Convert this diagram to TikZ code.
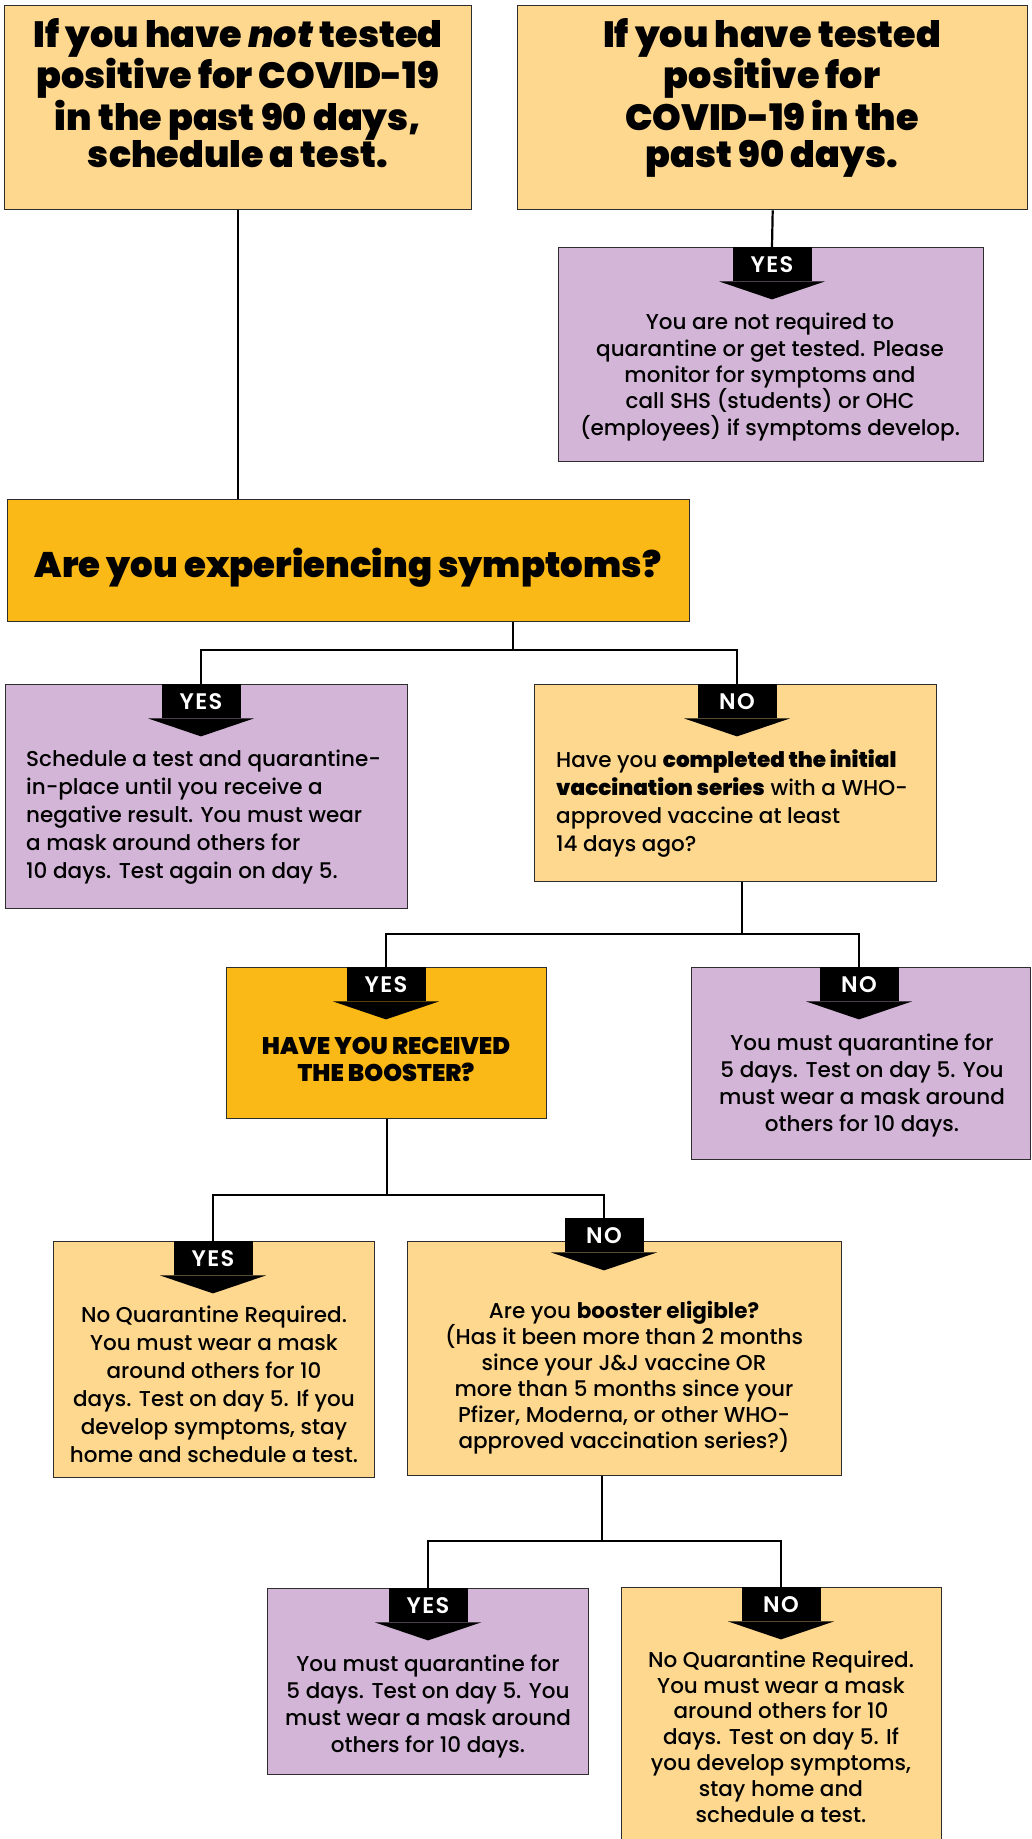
\documentclass[tikz,border=0pt]{standalone}
\usepackage{fontspec}
\setmainfont{Poppins}[UprightFont=* Medium, BoldFont=* Bold]
\newfontfamily\heavyfont{Poppins}[UprightFont=* Black, ItalicFont=* Black Italic]
\newfontfamily\semifont{Poppins}[UprightFont=* SemiBold, LetterSpace=6]
\usetikzlibrary{calc}
\definecolor{lightor}{RGB}{254,216,143}
\definecolor{gold}{RGB}{251,185,23}
\definecolor{lilac}{RGB}{211,181,215}
\definecolor{bordc}{RGB}{45,45,45}
\newcommand\tabarrow[4]{%
  \node[tabbox] (#1) at (#2,#3) {#4};
  \fill ($(#1.south)+(-53,0)$) -- ($(#1.south)+(53,0)$) -- ($(#1.south)+(0,18)$) -- cycle;}
\begin{document}
\begin{tikzpicture}[x=1pt,y=-1pt,
  box/.style={draw=bordc, line width=1.4pt, inner sep=0pt, anchor=north west},
  conn/.style={line width=2.2pt, draw=black},
  tabbox/.style={fill=black, text=white, inner sep=0pt, minimum width=79pt,
    minimum height=34pt, anchor=north, font=\semifont\fontsize{22.5}{24}\selectfont,
    text height=17pt, text depth=0pt},
  htext/.style={inner sep=0pt, align=center, anchor=base},
  btext/.style={inner sep=0pt, align=center, anchor=base},
  ltext/.style={inner sep=0pt, align=left, anchor=base west}]
\fill[white] (0,0) rectangle (1031,1839);
\useasboundingbox (0,0) rectangle (1031,1839);

% boxes
\node[box, fill=lightor, minimum width=467pt, minimum height=204pt] (b1) at (4,5) {};
\node[box, fill=lightor, minimum width=510pt, minimum height=204pt] (b2) at (517,5) {};
\node[box, fill=lilac, minimum width=425pt, minimum height=214pt] (p1) at (558,247) {};
\node[box, fill=gold, minimum width=682pt, minimum height=122pt] (sym) at (7,499) {};
\node[box, fill=lilac, minimum width=402pt, minimum height=224pt] (sy) at (5,684) {};
\node[box, fill=lightor, minimum width=402pt, minimum height=197pt] (sn) at (534,684) {};
\node[box, fill=gold, minimum width=320pt, minimum height=151pt] (vy) at (226,967) {};
\node[box, fill=lilac, minimum width=339pt, minimum height=192pt] (vn) at (691,967) {};
\node[box, fill=lightor, minimum width=321pt, minimum height=236pt] (by) at (53,1241) {};
\node[box, fill=lightor, minimum width=434pt, minimum height=234pt] (bn) at (407,1241) {};
\node[box, fill=lilac, minimum width=321pt, minimum height=186pt] (ey) at (267,1588) {};
\node[box, fill=lightor, minimum width=320pt, minimum height=262pt] (en) at (621,1587) {};

% tabs
\tabarrow{tT}{772}{247}{YES}
\tabarrow{tSY}{201}{684}{YES}
\tabarrow{tSN}{737}{684}{NO}
\tabarrow{tVY}{386}{967}{YES}
\tabarrow{tVN}{859}{967}{NO}
\tabarrow{tBY}{213}{1241}{YES}
\tabarrow{tBN}{604}{1218}{NO}
\tabarrow{tEY}{428}{1588}{YES}
\tabarrow{tEN}{781}{1587}{NO}

% junctions
\coordinate (jS) at (513,650);
\coordinate (jV) at (742,934);
\coordinate (jB) at (387,1195);
\coordinate (jE) at (602,1541);

% connectors
\draw[conn] (b1.south) -- (b1.south |- sym.north);
\draw[conn] (b2.south) -- (tT.north);
\draw[conn] (jS |- sym.south) -- (jS) -| (tSY.north);
\draw[conn] (jS) -| (tSN.north);
\draw[conn] (jV |- sn.south) -- (jV) -| (tVY.north);
\draw[conn] (jV) -| (tVN.north);
\draw[conn] (jB |- vy.south) -- (jB) -| (tBY.north);
\draw[conn] (jB) -| (tBN.north);
\draw[conn] (jE |- bn.south) -- (jE) -| (tEY.north);
\draw[conn] (jE) -| (tEN.north);

% texts (anchor = baseline of last line)
\node[htext, font=\heavyfont\fontsize{36.5}{37}\selectfont] (b1t) at (238,167)
  {If you have \textit{not} tested\\positive for COVID-19\\in the past 90 days,\\schedule a test.};
\node[htext, font=\heavyfont\fontsize{36.5}{37}\selectfont] (b2t) at (772,167)
  {If you have tested\\positive for\\COVID-19 in the\\past 90 days.};
\node[btext, font=\fontsize{21.5}{26.3}\selectfont] (p1t) at (770,435)
  {You are not required to\\quarantine or get tested. Please\\monitor for symptoms and\\call SHS (students) or OHC\\(employees) if symptoms develop.};
\node[htext, font=\heavyfont\fontsize{35.5}{40}\selectfont] (symt) at (348,577)
  {Are you experiencing symptoms?};
\node[ltext, font=\fontsize{21.5}{28}\selectfont] (syt) at (26,878)
  {Schedule a test and quarantine-\\in-place until you receive a\\negative result. You must wear\\a mask around others for\\10 days. Test again on day 5.};
\node[ltext, font=\fontsize{21.5}{28}\selectfont] (snt) at (556,851)
  {Have you {\heavyfont completed the initial}\\{\heavyfont vaccination series} with a WHO-\\approved vaccine at least\\14 days ago?};
\node[htext, font=\heavyfont\fontsize{24}{27}\selectfont] (vyt) at (386,1081)
  {HAVE YOU RECEIVED\\THE BOOSTER?};
\node[btext, font=\fontsize{21.5}{27}\selectfont] (vnt) at (862,1131)
  {You must quarantine for\\5 days. Test on day 5. You\\must wear a mask around\\others for 10 days.};
\node[btext, font=\fontsize{21.5}{28}\selectfont] (byt) at (214,1462)
  {No Quarantine Required.\\You must wear a mask\\around others for 10\\days. Test on day 5. If you\\develop symptoms, stay\\home and schedule a test.};
\node[btext, font=\fontsize{21.5}{26}\selectfont] (bnt) at (624,1448)
  {Are you \textbf{booster eligible?}\\(Has it been more than 2 months\\since your J\&J vaccine OR\\more than 5 months since your\\Pfizer, Moderna, or other WHO-\\approved vaccination series?)};
\node[btext, font=\fontsize{21.5}{27}\selectfont] (eyt) at (428,1752)
  {You must quarantine for\\5 days. Test on day 5. You\\must wear a mask around\\others for 10 days.};
\node[btext, font=\fontsize{21.5}{25.8}\selectfont] (ent) at (781,1822)
  {No Quarantine Required.\\You must wear a mask\\around others for 10\\days. Test on day 5. If\\you develop symptoms,\\stay home and\\schedule a test.};
\end{tikzpicture}
\end{document}
